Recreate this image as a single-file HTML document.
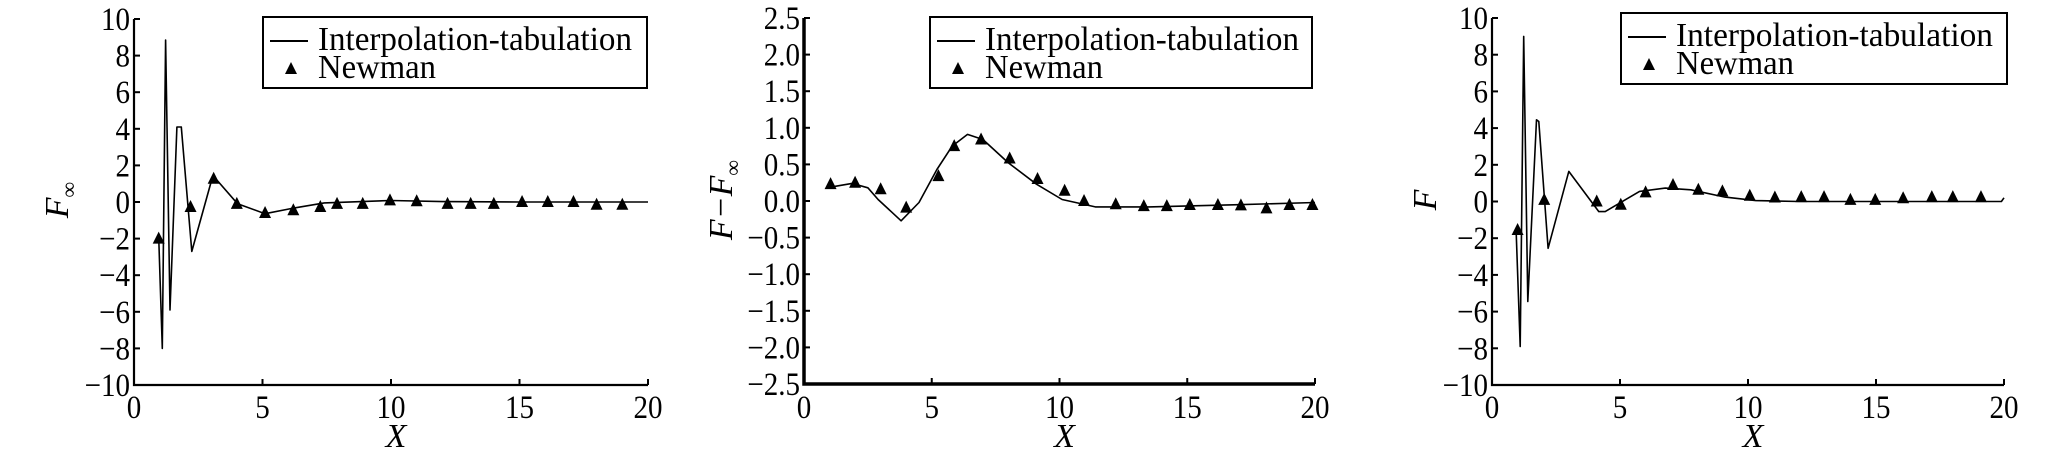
<!DOCTYPE html>
<html><head><meta charset="utf-8"><style>
html,body{margin:0;padding:0;background:#fff;}
svg{display:block;}
text{font-family:"Liberation Serif",serif;fill:#000;}
</style></head><body>
<svg id="fig" width="2068" height="459" viewBox="0 0 2068 459" xmlns="http://www.w3.org/2000/svg"></svg>
<script>
// ---- data ----
const xTicks = [0, 5, 10, 15, 20];
const yTicksA = [-10, -8, -6, -4, -2, 0, 2, 4, 6, 8, 10];
const yTicksB = [-2.5, -2.0, -1.5, -1.0, -0.5, 0.0, 0.5, 1.0, 1.5, 2.0, 2.5];

const curve1X = [0.96, 1.1, 1.23, 1.4, 1.67, 1.84, 2.25, 3.07, 4.03, 5.1, 6.1, 7.4, 10, 12, 15, 20];
const curve1Y = [-1.9, -8.0, 8.85, -5.9, 4.1, 4.1, -2.7, 1.45, -0.1, -0.64, -0.36, -0.05, 0.08, 0.02, 0.0, 0.0];
const newman1X = [0.96, 2.2, 3.1, 4.0, 5.1, 6.2, 7.25, 7.9, 8.9, 9.96, 11, 12.2, 13.1, 14.0, 15.1, 16.1, 17.1, 18.0, 19.0];
const newman1Y = [-2.0, -0.27, 1.27, -0.1, -0.6, -0.45, -0.27, -0.1, -0.1, 0.09, 0.04, -0.1, -0.1, -0.1, 0, 0, 0, -0.15, -0.15];

const curve2X = [0.88, 1.88, 2.5, 2.9, 3.8, 4.5, 5.2, 5.8, 6.4, 7.0, 8.0, 9.1, 10.1, 11.4, 13.5, 17, 20];
const curve2Y = [0.18, 0.24, 0.18, 0.02, -0.27, -0.02, 0.43, 0.75, 0.91, 0.84, 0.52, 0.23, 0.02, -0.08, -0.08, -0.05, -0.02];
const newman2X = [1.04, 2.0, 3.0, 4.0, 5.26, 5.88, 6.93, 8.05, 9.14, 10.2, 10.96, 12.2, 13.3, 14.2, 15.1, 16.2, 17.1, 18.1, 19.0, 19.9];
const newman2Y = [0.23, 0.25, 0.16, -0.09, 0.34, 0.75, 0.84, 0.58, 0.3, 0.14, 0.0, -0.045, -0.07, -0.07, -0.055, -0.055, -0.06, -0.1, -0.055, -0.055];

const curve3X = [0.94, 1.1, 1.24, 1.4, 1.74, 1.83, 2.19, 3.0, 4.17, 4.42, 5.76, 6.77, 7.77, 9.1, 10.3, 12, 15, 19.9, 20];
const curve3Y = [-1.55, -7.9, 9.0, -5.45, 4.45, 4.36, -2.55, 1.64, -0.55, -0.55, 0.55, 0.73, 0.64, 0.24, 0.05, 0.0, 0.0, 0.0, 0.2];
const newman3X = [1.0, 2.04, 4.09, 5.03, 6.0, 7.07, 8.06, 9.0, 10.07, 11.05, 12.08, 12.97, 14.0, 14.97, 16.06, 17.18, 18.0, 19.1];
const newman3Y = [-1.55, 0.09, 0, -0.18, 0.5, 0.9, 0.64, 0.55, 0.31, 0.22, 0.24, 0.24, 0.09, 0.09, 0.18, 0.24, 0.24, 0.24];

// ---- drawing ----
const NS = "http://www.w3.org/2000/svg";
const svg = document.getElementById("fig");
function mk(tag, attrs, parent) {
  const e = document.createElementNS(NS, tag);
  for (const k in attrs) e.setAttribute(k, attrs[k]);
  (parent || svg).appendChild(e);
  return e;
}
const cw = {"0":0.5,"1":0.5,"2":0.5,"3":0.5,"4":0.5,"5":0.5,"6":0.5,"7":0.5,"8":0.5,"9":0.5,".":0.25,"−":0.564};
function tw(s, fs) { let w = 0; for (const c of s) w += (cw[c] || 0.5); return w * fs * 0.88; }

function panel(cfg) {
  const g = mk("g", {});
  
  
  const sx = v => cfg.x0 + (v - 0) / 20 * (cfg.x1 - cfg.x0);
  const sy = v => cfg.yb + (v - cfg.ymin) / (cfg.ymax - cfg.ymin) * (cfg.yt - cfg.yb);
  // axes
  const ax = mk("path", {d: `M${cfg.x0},${cfg.yt} V${cfg.yb} H${cfg.x1}`, fill: "none", stroke: "#000", "stroke-width": cfg.axisW || 2.2}, g);
  
  
  // x ticks
  xTicks.forEach(t => {
    const X = sx(t);
    const tk = mk("line", {x1: X, x2: X, y1: cfg.yb, y2: cfg.yb - 6, stroke: "#000", "stroke-width": 2}, g);
    
    
    const s = String(t);
    const lb = mk("text", {x: X, y: 418, "font-size": 33, "text-anchor": "middle", textLength: tw(s, 33), lengthAdjust: "spacingAndGlyphs"}, g);
    lb.textContent = s;
    
    
  });
  // y ticks
  cfg.yTicks.forEach(t => {
    const Y = sy(t);
    const tk = mk("line", {x1: cfg.x0, x2: cfg.x0 + 6, y1: Y, y2: Y, stroke: "#000", "stroke-width": 2}, g);
    
    
    let s = cfg.dec ? Math.abs(t).toFixed(1) : String(Math.abs(t));
    if (t < 0) s = "−" + s;
    const lb = mk("text", {x: cfg.x0 - 4, y: Y + 11, "font-size": 33, "text-anchor": "end", textLength: tw(s, 33), lengthAdjust: "spacingAndGlyphs"}, g);
    lb.textContent = s;
    
    
  });
  // curve
  let d = "";
  cfg.cx.forEach((v, i) => { d += (i ? "L" : "M") + sx(v).toFixed(1) + "," + sy(cfg.cy[i]).toFixed(1); });
  const ln = mk("path", {d: d, fill: "none", stroke: "#000", "stroke-width": 1.6, "stroke-linejoin": "round"}, g);
  
  
  // markers
  cfg.nx.forEach((v, i) => {
    const X = sx(v), Y = sy(cfg.ny[i]);
    const m = mk("path", {d: `M${X - 6},${Y + 5} L${X + 6},${Y + 5} L${X},${Y - 7} Z`, fill: "#000"}, g);
    
    
  });
  // x label
  const xl = mk("text", {x: (cfg.x0 + cfg.x1) / 2 + 5, y: 447, "font-size": 34, "font-style": "italic", "text-anchor": "middle"}, g);
  xl.textContent = "X";
  
  
  // y label
  const yl = mk("text", {x: 0, y: 0, "font-size": 34, "font-style": "italic", "text-anchor": "middle", transform: `translate(${cfg.ylx},200) rotate(-90)`}, g);
  yl.innerHTML = cfg.ylab;
  
  
  // legend
  const L = cfg.leg;
  const lg = mk("g", {}, g);
  
  
  mk("rect", {x: L.x, y: L.y, width: L.w, height: 71, fill: "#fff", stroke: "#000", "stroke-width": 2}, lg);
  mk("line", {x1: L.x + 7, x2: L.x + 45, y1: L.y + 24, y2: L.y + 24, stroke: "#000", "stroke-width": 2}, lg);
  const t1 = mk("text", {x: L.x + 55, y: L.y + 33, "font-size": 34, textLength: L.tw, lengthAdjust: "spacingAndGlyphs"}, lg);
  t1.textContent = "Interpolation-tabulation";
  
  
  const tx = L.x + 28, ty = L.y + 52;
  mk("path", {d: `M${tx - 6},${ty + 5} L${tx + 6},${ty + 5} L${tx},${ty - 7} Z`, fill: "#000"}, lg);
  const t2 = mk("text", {x: L.x + 55, y: L.y + 61, "font-size": 34, textLength: 118, lengthAdjust: "spacingAndGlyphs"}, lg);
  t2.textContent = "Newman";
  
  
}

panel({name: "panel-f-infinity", x0: 134, x1: 648, yt: 19, yb: 385, ymin: -10, ymax: 10, yTicks: yTicksA, dec: false,
  cx: curve1X, cy: curve1Y, nx: newman1X, ny: newman1Y, ylx: 68,
  ylab: 'F<tspan font-size="22" font-style="normal" dy="8">∞</tspan>',
  leg: {x: 263, y: 17, w: 384, tw: 314}});
panel({name: "panel-f-minus-f-infinity", x0: 804, x1: 1315, yt: 18, yb: 384, ymin: -2.5, ymax: 2.5, yTicks: yTicksB, dec: true,
  cx: curve2X, cy: curve2Y, nx: newman2X, ny: newman2Y, ylx: 732, axisW: 3.5,
  ylab: 'F−F<tspan font-size="22" font-style="normal" dy="8">∞</tspan>',
  leg: {x: 930, y: 17, w: 382, tw: 314}});
panel({name: "panel-f", x0: 1492, x1: 2004, yt: 18, yb: 385, ymin: -10, ymax: 10, yTicks: yTicksA, dec: false,
  cx: curve3X, cy: curve3Y, nx: newman3X, ny: newman3Y, ylx: 1436,
  ylab: 'F',
  leg: {x: 1621, y: 13, w: 386, tw: 317}});
</script>
</body></html>
